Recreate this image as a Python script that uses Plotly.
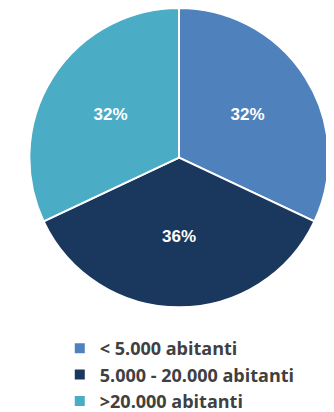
import plotly.graph_objects as go

categories = ["< 5.000 abitanti", "5.000 - 20.000 abitanti", ">20.000 abitanti"]
values = [32, 36, 32]
colors = ["#4F81BD", "#1A375E", "#4BACC6"]

fig = go.Figure(go.Pie(
    labels=categories,
    values=values,
    sort=False,
    direction="clockwise",
    rotation=0,
    marker=dict(colors=colors, line=dict(color="white", width=2)),
    texttemplate="%{percent:.0%}",
    textposition="inside",
    insidetextorientation="horizontal",
    textfont=dict(family="Arial", size=17, color="white", weight="bold"),
    domain=dict(x=[0.057, 0.967], y=[0.27, 1.0]),
    hoverinfo="label+percent",
))

fig.update_layout(
    width=334, height=412,
    margin=dict(l=0, r=0, t=0, b=0),
    paper_bgcolor="white",
    showlegend=True,
    legend=dict(
        orientation="v",
        x=0.155, xanchor="left",
        y=-0.006, yanchor="bottom",
        font=dict(family="Open Sans", size=18, color="#404040", weight="bold"),
        itemwidth=30,
        traceorder="normal",
    ),
)

fig.write_html("out.html")
